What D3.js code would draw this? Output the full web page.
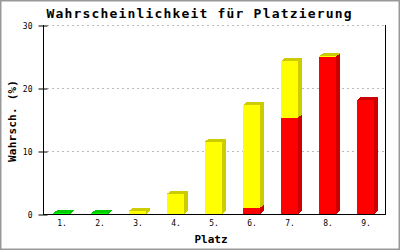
<!DOCTYPE html>
<html><head><meta charset="utf-8">
<script src="https://cdn.jsdelivr.net/npm/d3@7"></script>
<style>body{margin:0;background:#fff}svg{display:block}</style>
</head><body>
<svg id="c" width="400" height="250"></svg>
<script>
const categories = ["1.","2.","3.","4.","5.","6.","7.","8.","9."];
const red    = [0, 0, 0, 0, 0, 1.0, 15.3, 25.0, 18.1];
const yellow = [0, 0, 0.5, 3.2, 11.5, 16.3, 9.0, 0.05, 0];
const green  = [0.1, 0.1, 0, 0, 0, 0, 0, 0, 0];
const yTicks = [0, 10, 20, 30];

const series = [
  {name:"red", values:red, front:"#ff0000", dark:"#cc0000"},
  {name:"yellow", values:yellow, front:"#ffff00", dark:"#cccc00"},
  {name:"green", values:green, front:"#00ff00", dark:"#00cc00"}
];

const svg = d3.select("#c");
const L = 43, R = 385, T = 25, B = 214;
const x = d3.scaleBand().domain(categories).range([L, R]);
const y = d3.scaleLinear().domain([0, 30]).range([B, T]);

svg.append("rect").attr("x",0.5).attr("y",0.5).attr("width",399).attr("height",249)
  .attr("fill","#fff").attr("stroke","#999").attr("stroke-width",2);

// gridlines
svg.append("g").selectAll("line").data(yTicks.filter(d=>d>0)).join("line")
  .attr("x1", L+4).attr("x2", R).attr("y1", d=>Math.round(y(d))+0.5).attr("y2", d=>Math.round(y(d))+0.5)
  .attr("stroke","#bbb").attr("stroke-dasharray","2,3").attr("shape-rendering","crispEdges");

// bars
const off = 10, fw = 17, dx = 4, dy = 3;
const g = svg.append("g").attr("shape-rendering","crispEdges");
categories.forEach((c, i) => {
  let base = 0;
  series.forEach(s => {
    const v = s.values[i];
    if (v <= 0) return;
    const x0 = x(c) + off, x1 = x0 + fw;
    const yb = y(base), yt = y(base + v);
    g.append("rect").attr("x", x0).attr("y", yt).attr("width", fw).attr("height", yb - yt).attr("fill", s.front);
    g.append("polygon").attr("points", [[x1,yb],[x1,yt],[x1+dx,yt-dy],[x1+dx,yb-dy]].join(" ")).attr("fill", s.dark);
    g.append("polygon").attr("points", [[x0,yt],[x0+dx,yt-dy],[x1+dx,yt-dy],[x1,yt]].join(" ")).attr("fill", s.dark);
    base += v;
  });
});

// axes
const yAxis = d3.axisLeft(y).tickValues(yTicks).tickSize(5).tickSizeInner(5).tickFormat(d3.format("d"));
const ya = svg.append("g").attr("transform", `translate(${L+0.5},0.5)`).call(yAxis);
ya.select(".domain").remove();
ya.selectAll(".tick line").attr("x1", 4).attr("x2", -5).attr("stroke","#000");
ya.selectAll(".tick text").attr("x", -11).attr("font-family","DejaVu Sans Mono").attr("font-size", 8).attr("fill","#000");

svg.append("line").attr("x1", L+0.5).attr("x2", L+0.5).attr("y1", T).attr("y2", B+1).attr("stroke","#000");
svg.append("line").attr("x1", R+0.5).attr("x2", R+0.5).attr("y1", T).attr("y2", B+1).attr("stroke","#000");
svg.append("line").attr("x1", L).attr("x2", R+1).attr("y1", B+0.5).attr("y2", B+0.5).attr("stroke","#000");

const xAxis = d3.axisBottom(x).tickSize(0);
const xa = svg.append("g").attr("transform", `translate(0,${B})`).call(xAxis);
xa.select(".domain").remove();
xa.selectAll(".tick text").attr("dy", 0).attr("y", 12).attr("font-family","DejaVu Sans Mono").attr("font-size", 8).attr("fill","#000");

// titles
svg.append("text").attr("x", 199).attr("y", 18).attr("text-anchor","middle")
  .attr("font-family","DejaVu Sans Mono").attr("font-weight","bold").attr("font-size", 13)
  .attr("textLength", 305).attr("lengthAdjust","spacing")
  .text("Wahrscheinlichkeit für Platzierung");
svg.append("text").attr("transform","translate(16,121) rotate(-90)").attr("text-anchor","middle")
  .attr("font-family","DejaVu Sans Mono").attr("font-weight","bold").attr("font-size", 11)
  .attr("textLength", 82).attr("lengthAdjust","spacing")
  .text("Wahrsch. (%)");
svg.append("text").attr("x", 211).attr("y", 243).attr("text-anchor","middle")
  .attr("font-family","DejaVu Sans Mono").attr("font-weight","bold").attr("font-size", 11)
  .text("Platz");
</script>
</body></html>
